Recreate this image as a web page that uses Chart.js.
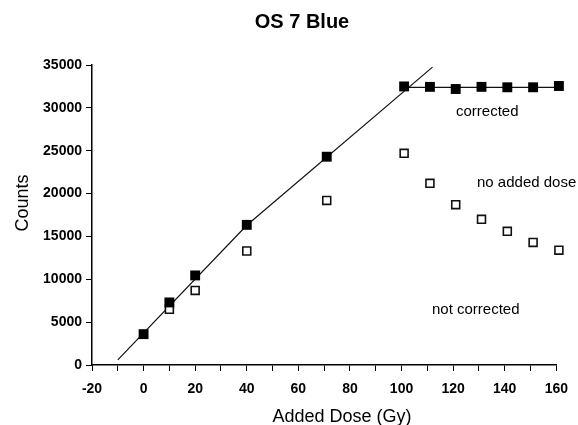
<!DOCTYPE html>
<html>
<head>
<meta charset="utf-8">
<script src="https://cdn.jsdelivr.net/npm/chart.js@4.4.1/dist/chart.umd.min.js"></script>
<style>
  html, body { margin: 0; padding: 0; background: #fff; }
  #wrap { width: 578px; height: 425px; position: relative; }
</style>
</head>
<body>
<div id="wrap"><canvas id="chart"></canvas></div>
<script>
// Values
const correctedDose = [0, 10, 20, 40, 71, 101, 111, 121, 131, 141, 151, 161];
const correctedCounts = [3600, 7300, 10450, 16350, 24300, 32500, 32450, 32200, 32450, 32400, 32400, 32550];
const uncorrectedDose = [10, 20, 40, 71, 101, 111, 121, 131, 141, 151, 161];
const uncorrectedCounts = [6500, 8700, 13300, 19200, 24700, 21200, 18700, 17000, 15600, 14300, 13400];
// drawn line as it appears in the picture (slight bend near 40 Gy)
const fitDose = [-10, 40, 112];
const fitCounts = [600, 16300, 34750];
const plateauDose = [101, 161];
const plateauCounts = [32400, 32400];

const FONT = "'Liberation Sans', Arial, Helvetica, sans-serif";

const toPoints = (xs, ys) => xs.map((x, i) => ({ x, y: ys[i] }));

// Title, axis titles and in-plot labels
const textPlugin = {
    id: 'texts',
    afterDraw(chart) {
        const ctx = chart.ctx;
        ctx.save();
        ctx.fillStyle = '#000';

        ctx.font = 'bold 20px ' + FONT;
        ctx.textAlign = 'center';
        ctx.textBaseline = 'alphabetic';
        ctx.fillText('OS 7 Blue', 302, 28);

        ctx.font = '18px ' + FONT;
        ctx.fillText('Added Dose (Gy)', 342, 422);

        ctx.save();
        ctx.translate(28, 203);
        ctx.rotate(-Math.PI / 2);
        ctx.fillText('Counts', 0, 0);
        ctx.restore();

        ctx.font = '15px ' + FONT;
        ctx.textAlign = 'left';
        ctx.fillText('corrected', 456, 116);
        ctx.fillText('no added dose', 477, 187);
        ctx.fillText('not corrected', 432, 314);
        ctx.restore();
    }
};

new Chart(document.getElementById('chart'), {
    type: 'scatter',
    data: {
        datasets: [
            {
                label: 'corrected',
                data: toPoints(correctedDose, correctedCounts),
                pointStyle: 'rect',
                pointRadius: 7,
                backgroundColor: '#000',
                borderColor: '#000',
                borderWidth: 0,
                clip: false
            },
            {
                label: 'not corrected',
                data: toPoints(uncorrectedDose, uncorrectedCounts),
                pointStyle: 'rect',
                pointRadius: 5.6,
                backgroundColor: '#fff',
                borderColor: '#111',
                borderWidth: 1.6,
                clip: false
            },
            {
                label: 'fit',
                data: toPoints(fitDose, fitCounts),
                showLine: true,
                pointRadius: 0,
                borderColor: '#111',
                borderWidth: 1.2,
                clip: false
            },
            {
                label: 'plateau',
                data: toPoints(plateauDose, plateauCounts),
                showLine: true,
                pointRadius: 0,
                borderColor: '#111',
                borderWidth: 1.2,
                clip: false
            }
        ]
    },
    options: {
        responsive: true,
        maintainAspectRatio: false,
        animation: false,
        layout: {
            padding: { top: 65, right: 20, bottom: 0, left: 0 }
        },
        plugins: {
            legend: { display: false },
            tooltip: { enabled: false }
        },
        scales: {
            x: {
                type: 'linear',
                min: -20,
                max: 160,
                afterFit(scale) { scale.height = 60; },
                border: { display: true, color: '#000', width: 1.5 },
                grid: {
                    drawOnChartArea: false,
                    drawTicks: true,
                    tickLength: 6,
                    color: '#000',
                    lineWidth: 1
                },
                ticks: {
                    stepSize: 10,
                    padding: 10,
                    color: '#000',
                    maxRotation: 0,
                    autoSkip: false,
                    font: { family: FONT, size: 14, weight: 'bold' },
                    callback: function(value) {
                        return value % 20 === 0 ? String(value) : '';
                    }
                }
            },
            y: {
                min: 0,
                max: 35000,
                afterFit(scale) { scale.width = 92; },
                border: { display: true, color: '#000', width: 1.5 },
                grid: {
                    drawOnChartArea: false,
                    drawTicks: true,
                    tickLength: 6,
                    color: '#000',
                    lineWidth: 1
                },
                ticks: {
                    stepSize: 5000,
                    padding: 4,
                    color: '#000',
                    font: { family: FONT, size: 14, weight: 'bold' },
                    callback: function(value) { return String(value); }
                }
            }
        }
    },
    plugins: [textPlugin]
});
</script>
</body>
</html>
